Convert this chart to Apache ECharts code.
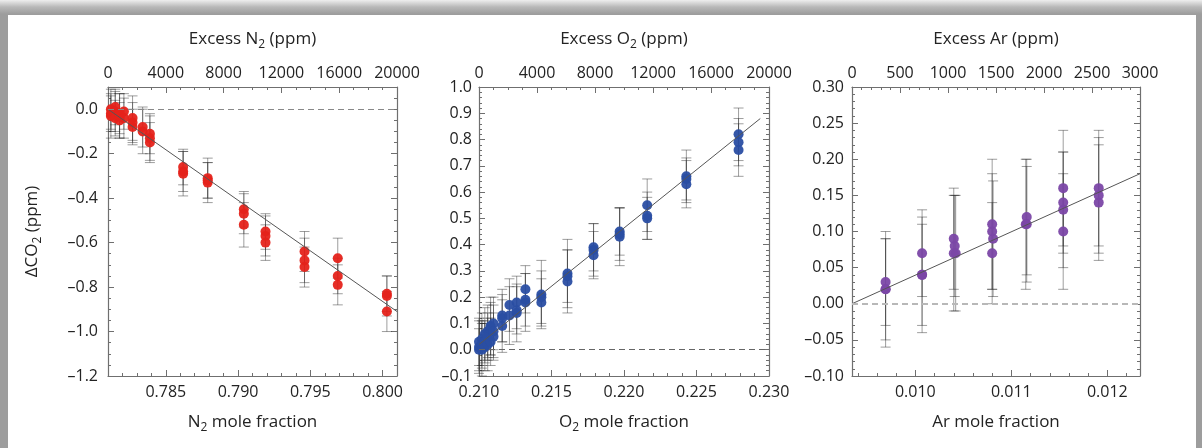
<!DOCTYPE html>
<html>
<head>
<meta charset="utf-8">
<script src="https://cdn.jsdelivr.net/npm/echarts@6/dist/echarts.min.js"></script>
<style>
html, body {
  margin: 0;
  padding: 0;
  width: 1202px;
  height: 448px;
  overflow: hidden;
  background: linear-gradient(to bottom, #eeeeee 0px, #b8b8b8 7px, #9d9d9d 14px);
}
.card {
  position: absolute;
  left: 8px;
  top: 15px;
  width: 1188px;
  height: 433px;
  background: #fff;
}
#chart {
  position: absolute;
  left: 0;
  top: 0;
  width: 1202px;
  height: 448px;
}
</style>
</head>
<body>
<div class="card"></div>
<div id="chart"></div>
<script>
// [mole fraction, ΔCO2 (ppm), error]
var n2Points = [
  [0.7812, 0.00, 0.09], [0.7812, -0.02, 0.08], [0.7812, -0.03, 0.10],
  [0.7815, 0.01, 0.08], [0.7815, -0.01, 0.09], [0.7815, -0.04, 0.08],
  [0.7818, -0.02, 0.09], [0.7818, -0.05, 0.08], [0.7818, -0.03, 0.10],
  [0.7821, -0.01, 0.08], [0.7821, -0.04, 0.09],
  [0.7827, -0.04, 0.10], [0.7827, -0.06, 0.09], [0.7827, -0.08, 0.08],
  [0.7834, -0.08, 0.09], [0.7834, -0.10, 0.10],
  [0.7839, -0.11, 0.09], [0.7839, -0.13, 0.10], [0.7839, -0.15, 0.09],
  [0.7862, -0.26, 0.08], [0.7862, -0.28, 0.09], [0.7862, -0.29, 0.10],
  [0.7879, -0.31, 0.09], [0.7879, -0.32, 0.08], [0.7879, -0.33, 0.09],
  [0.7904, -0.45, 0.08], [0.7904, -0.47, 0.09], [0.7904, -0.52, 0.10],
  [0.7919, -0.55, 0.08], [0.7919, -0.57, 0.09], [0.7919, -0.60, 0.08],
  [0.7946, -0.64, 0.09], [0.7946, -0.68, 0.10], [0.7946, -0.71, 0.09],
  [0.7969, -0.67, 0.09], [0.7969, -0.75, 0.08], [0.7969, -0.79, 0.09],
  [0.8003, -0.83, 0.08], [0.8003, -0.84, 0.09], [0.8003, -0.91, 0.09]
];
var o2Points = [
  [0.2100, 0.01, 0.10], [0.2100, 0.03, 0.09], [0.2100, 0.00, 0.08],
  [0.2102, 0.04, 0.10], [0.2102, 0.02, 0.09], [0.2102, 0.00, 0.10],
  [0.2104, 0.06, 0.10], [0.2104, 0.03, 0.08], [0.2104, 0.01, 0.09],
  [0.2106, 0.07, 0.10], [0.2106, 0.05, 0.09], [0.2106, 0.02, 0.10],
  [0.2108, 0.08, 0.10], [0.2108, 0.09, 0.11], [0.2108, 0.03, 0.09],
  [0.2110, 0.10, 0.10], [0.2110, 0.05, 0.09], [0.2110, 0.07, 0.10],
  [0.2116, 0.13, 0.10], [0.2116, 0.12, 0.09], [0.2116, 0.09, 0.10],
  [0.2121, 0.17, 0.10], [0.2121, 0.13, 0.11],
  [0.2126, 0.18, 0.10], [0.2126, 0.15, 0.09], [0.2126, 0.14, 0.11],
  [0.2132, 0.23, 0.09], [0.2132, 0.19, 0.10], [0.2132, 0.18, 0.11],
  [0.2143, 0.21, 0.13], [0.2143, 0.20, 0.10], [0.2143, 0.18, 0.09],
  [0.2161, 0.29, 0.13], [0.2161, 0.28, 0.10], [0.2161, 0.26, 0.12],
  [0.2179, 0.39, 0.09], [0.2179, 0.38, 0.10], [0.2179, 0.36, 0.09],
  [0.2197, 0.45, 0.09], [0.2197, 0.44, 0.10], [0.2197, 0.43, 0.11],
  [0.2216, 0.55, 0.10], [0.2216, 0.51, 0.09], [0.2216, 0.50, 0.08],
  [0.2243, 0.66, 0.10], [0.2243, 0.65, 0.08], [0.2243, 0.63, 0.09],
  [0.2279, 0.82, 0.10], [0.2279, 0.79, 0.09], [0.2279, 0.76, 0.10]
];
var arPoints = [
  [0.00969, 0.03, 0.06], [0.00969, 0.02, 0.08], [0.00969, 0.02, 0.07],
  [0.01007, 0.07, 0.06], [0.01007, 0.04, 0.08], [0.01007, 0.04, 0.07],
  [0.01040, 0.09, 0.07], [0.01041, 0.08, 0.07], [0.01040, 0.07, 0.08], [0.01042, 0.07, 0.08],
  [0.01080, 0.11, 0.09], [0.01080, 0.10, 0.08], [0.01081, 0.09, 0.08], [0.01080, 0.07, 0.07],
  [0.01116, 0.12, 0.08], [0.01116, 0.11, 0.08], [0.01115, 0.11, 0.09],
  [0.01154, 0.16, 0.08], [0.01154, 0.14, 0.07], [0.01154, 0.13, 0.08], [0.01154, 0.10, 0.08],
  [0.01191, 0.16, 0.08], [0.01191, 0.15, 0.08], [0.01191, 0.14, 0.08]
];

// fitted lines (end points)
var n2Fit = [[0.781, 0.0], [0.801, -0.91]];
var o2Fit = [[0.210, 0.02], [0.2294, 0.88]];
var arFit = [[0.00934, 0.0], [0.01234, 0.18]];

// tick labels
var n2Ticks = [0.785, 0.790, 0.795, 0.800];
var o2Ticks = [0.210, 0.215, 0.220, 0.225, 0.230];
var arTicks = [0.010, 0.011, 0.012];

function range(from, to, step) {
  var out = [];
  var n = Math.round((to - from) / step);
  for (var i = 0; i <= n; i++) out.push(+(from + i * step).toFixed(6));
  return out;
}

var chart = echarts.init(document.getElementById('chart'));
var font = 'Open Sans';
var textColor = '#232323';
var lineColor = '#6f6f6f';

var rich = {
  s: { fontSize: 12, lineHeight: 12, verticalAlign: 'bottom', fontFamily: font, color: textColor }
};

function dash(v, d) {
  return v.toFixed(d).replace('-', '\u2013');
}

function errRender(params, api) {
  var x = api.value(0), y = api.value(1), e = api.value(2);
  var top = api.coord([x, y + e]);
  var bot = api.coord([x, y - e]);
  var w = 5;
  var style = { stroke: 'rgba(40,40,40,0.45)', lineWidth: 1 };
  return {
    type: 'group',
    children: [
      { type: 'line', shape: { x1: top[0], y1: top[1], x2: bot[0], y2: bot[1] }, style: style },
      { type: 'line', shape: { x1: top[0] - w, y1: top[1], x2: top[0] + w, y2: top[1] }, style: style },
      { type: 'line', shape: { x1: bot[0] - w, y1: bot[1], x2: bot[0] + w, y2: bot[1] }, style: style }
    ]
  };
}

var panels = [
  {
    left: 108, width: 289,
    xMin: 0.781, xMax: 0.801, ticks: n2Ticks, minor: range(0.782, 0.801, 0.001), xDec: 3,
    topMax: 20000, topInterval: 4000, topSplit: 4,
    yMin: -1.2, yMax: 0.1, yInterval: 0.2, ySplit: 4, yDec: 1, yMargin: 10, showMax: false,
    title: 'Excess N{s|2} (ppm)', xName: 'N{s|2} mole fraction',
    yName: '\u0394CO{s|2} (ppm)',
    points: n2Points, fit: n2Fit, color: '#e5231b', zeroColor: '#888'
  },
  {
    left: 479, width: 290,
    xMin: 0.210, xMax: 0.230, ticks: o2Ticks, minor: range(0.210, 0.230, 0.001), xDec: 3,
    topMax: 20000, topInterval: 4000, topSplit: 4,
    yMin: -0.1, yMax: 1.0, yInterval: 0.1, ySplit: 5, yDec: 1, yMargin: 7, showMax: true,
    title: 'Excess O{s|2} (ppm)', xName: 'O{s|2} mole fraction',
    yName: '',
    points: o2Points, fit: o2Fit, color: '#2a4ea3', zeroColor: '#666'
  },
  {
    left: 852, width: 288,
    xMin: 0.00934, xMax: 0.01234, ticks: arTicks, minor: range(0.0094, 0.0122, 0.0002), xDec: 3,
    topMax: 3000, topInterval: 500, topSplit: 5,
    yMin: -0.10, yMax: 0.30, yInterval: 0.05, ySplit: 5, yDec: 2, yMargin: 8, showMax: true,
    title: 'Excess Ar (ppm)', xName: 'Ar mole fraction',
    yName: '',
    points: arPoints, fit: arFit, color: '#7b47a6', zeroColor: '#b8b8b8'
  }
];

var grids = [], xAxes = [], yAxes = [], series = [];
var labelStyle = { color: textColor, fontFamily: font, fontSize: 16 };
var nameStyle = { color: textColor, fontFamily: font, fontSize: 17, lineHeight: 23, rich: rich };

panels.forEach(function (p, i) {
  grids.push({ left: p.left, width: p.width, top: 87, height: 289, containLabel: false, outerBoundsMode: 'none' });

  // bottom: minor ticks + frame line
  xAxes.push({
    gridIndex: i, type: 'value', position: 'bottom', min: p.xMin, max: p.xMax,
    axisLine: { show: true, onZero: false, lineStyle: { color: lineColor, width: 1.2 } },
    axisTick: { show: true, inside: true, length: 3, customValues: p.minor, lineStyle: { color: lineColor } },
    axisLabel: { show: false },
    splitLine: { show: false }
  });
  // bottom: major ticks + labels
  xAxes.push({
    gridIndex: i, type: 'value', position: 'bottom', min: p.xMin, max: p.xMax,
    name: p.xName, nameLocation: 'middle', nameGap: 35, nameTextStyle: nameStyle,
    axisLine: { show: false, onZero: false },
    axisTick: { show: true, inside: true, length: 6, customValues: p.ticks, lineStyle: { color: lineColor } },
    axisLabel: Object.assign({ customValues: p.ticks, margin: 8, formatter: function (v) { return v.toFixed(p.xDec); } }, labelStyle),
    splitLine: { show: false }
  });
  // top: excess ppm
  xAxes.push({
    gridIndex: i, type: 'value', position: 'top', min: 0, max: p.topMax, interval: p.topInterval,
    name: p.title, nameLocation: 'middle', nameGap: 36, nameTextStyle: nameStyle,
    axisLine: { show: true, onZero: false, lineStyle: { color: lineColor, width: 1.2 } },
    axisTick: { show: true, inside: true, length: 6, lineStyle: { color: lineColor } },
    minorTick: { show: true, splitNumber: p.topSplit, length: 3, lineStyle: { color: lineColor } },
    axisLabel: Object.assign({ margin: 6, formatter: function (v) { return String(v); } }, labelStyle),
    splitLine: { show: false }
  });

  yAxes.push({
    gridIndex: i, type: 'value', position: 'left', min: p.yMin, max: p.yMax, interval: p.yInterval,
    name: p.yName, nameLocation: 'middle', nameGap: 64, nameTextStyle: nameStyle,
    axisLine: { show: true, onZero: false, lineStyle: { color: lineColor, width: 1.2 } },
    axisTick: { show: true, inside: true, length: 6, lineStyle: { color: lineColor } },
    minorTick: { show: true, splitNumber: p.ySplit, length: 3, lineStyle: { color: lineColor } },
    axisLabel: Object.assign({ margin: p.yMargin, showMinLabel: true, showMaxLabel: p.showMax,
      formatter: function (v) { return dash(v, p.yDec); } }, labelStyle),
    splitLine: { show: false }
  });
  yAxes.push({
    gridIndex: i, type: 'value', position: 'right', min: p.yMin, max: p.yMax, interval: p.yInterval,
    axisLine: { show: true, onZero: false, lineStyle: { color: lineColor, width: 1.2 } },
    axisTick: { show: true, inside: true, length: 6, lineStyle: { color: lineColor } },
    minorTick: { show: true, splitNumber: p.ySplit, length: 3, lineStyle: { color: lineColor } },
    axisLabel: { show: false },
    splitLine: { show: false }
  });

  var xi = i * 3, yi = i * 2;
  series.push({
    type: 'custom', xAxisIndex: xi, yAxisIndex: yi, z: 1,
    renderItem: errRender, data: p.points, encode: { x: 0, y: 1 }, silent: true
  });
  series.push({
    type: 'scatter', xAxisIndex: xi, yAxisIndex: yi, z: 2,
    symbolSize: 10, itemStyle: { color: p.color, opacity: 0.95 },
    data: p.points.map(function (d) { return [d[0], d[1]]; })
  });
  series.push({
    type: 'line', xAxisIndex: xi, yAxisIndex: yi, z: 3,
    data: p.fit, symbol: 'none', lineStyle: { color: '#555', width: 1 },
    markLine: {
      silent: true, symbol: 'none', label: { show: false },
      lineStyle: { color: p.zeroColor, type: [6, 4], width: i === 2 ? 2 : 1.2 },
      data: [{ yAxis: 0 }]
    }
  });
});

chart.setOption({
  animation: false,
  backgroundColor: 'transparent',
  grid: grids,
  xAxis: xAxes,
  yAxis: yAxes,
  series: series
});
</script>
</body>
</html>
